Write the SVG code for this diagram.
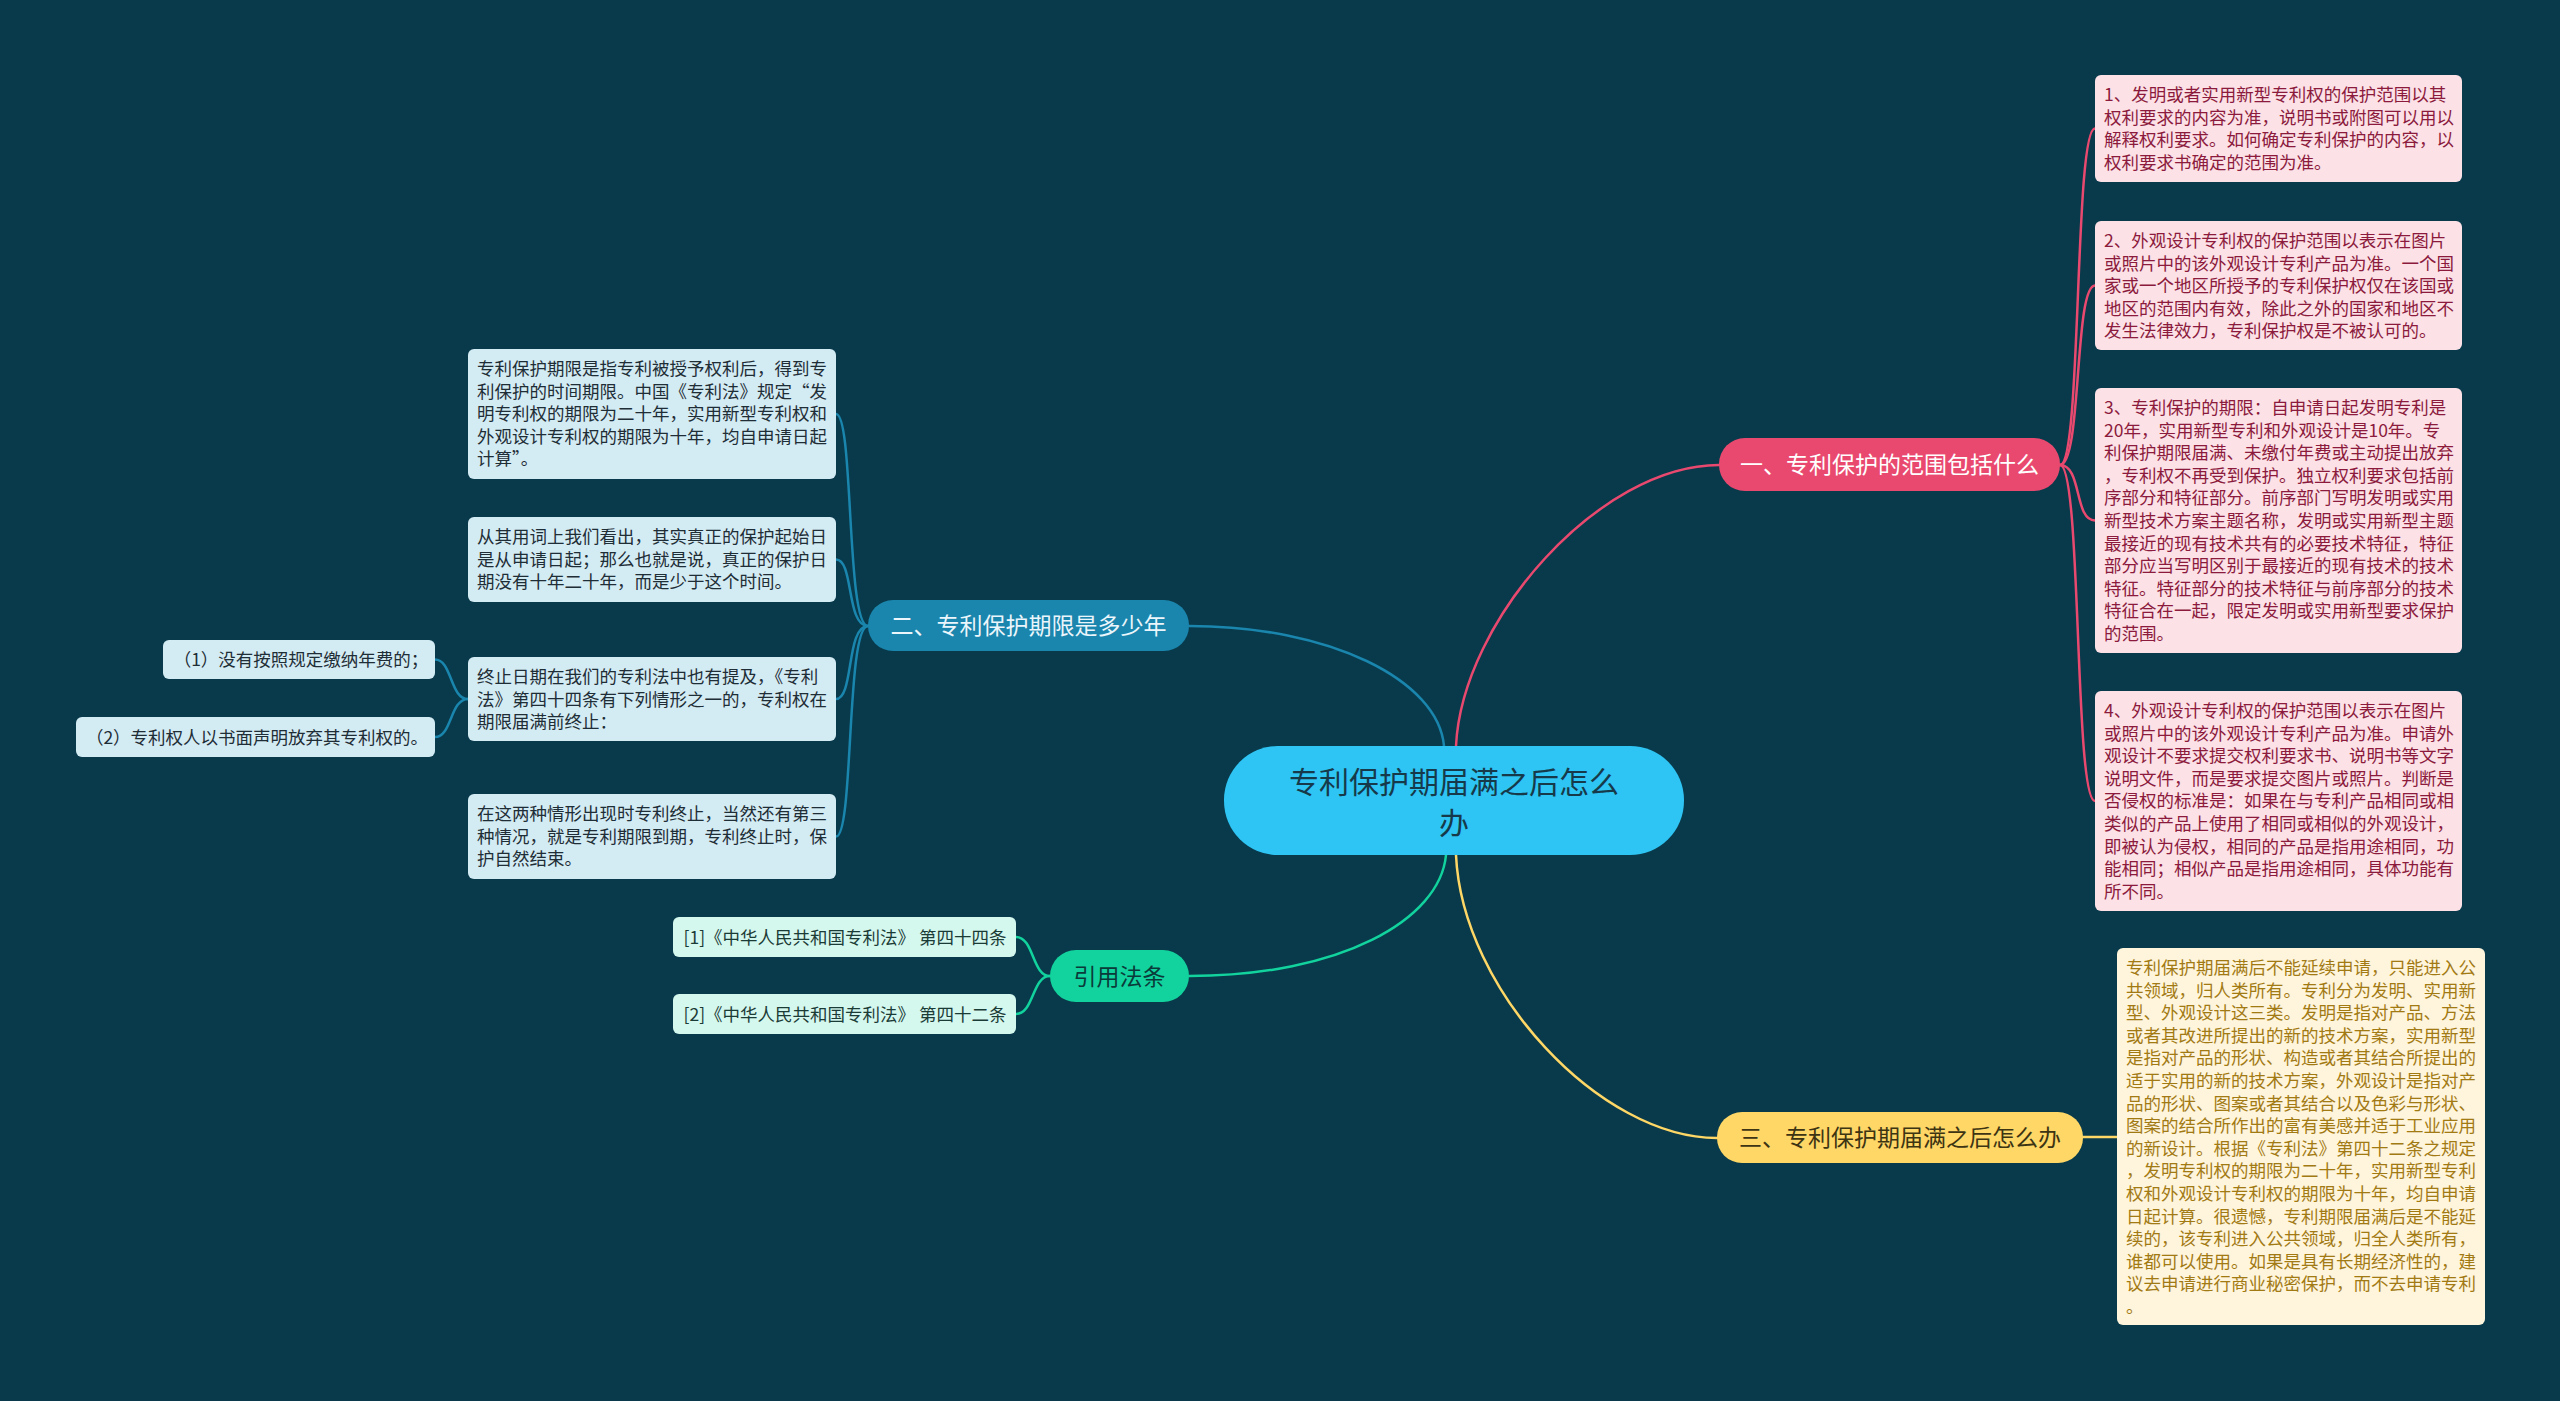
<svg xmlns="http://www.w3.org/2000/svg" width="2560" height="1401" viewBox="0 0 2560 1401">
<style>
text{font-family:"Noto Sans CJK SC","Noto Sans",sans-serif}
.lk{fill:none;stroke-width:2.5;stroke-linecap:round}
.r{stroke:#e9496f}.b{stroke:#1a85ad}.g{stroke:#12d39d}.y{stroke:#fed766}
.pk{fill:#fce1e7}.pkt{fill:#8b1a3c;font-size:17.5px}
.bl{fill:#d3ebf3}.blt{fill:#1e2d36;font-size:17.5px}
.mt{fill:#d4f7ee}.mtt{fill:#1b3b36;font-size:17.5px}
.cr{fill:#fff5dc}.crt{fill:#a27a14;font-size:17.5px}
.br{font-size:23px}
</style>
<rect width="2560" height="1401" fill="#083a4b"/>
<g id="connectors">
<path class="lk r" d="M1456,746 C1462,620 1600,465 1719,465"/>
<path class="lk b" d="M1444,746 C1438,680 1330,626 1189,626"/>
<path class="lk g" d="M1446,855 C1440,920 1340,976 1189,976"/>
<path class="lk y" d="M1456,855 C1462,990 1600,1138 1717,1138"/>
<path class="lk r" d="M2060,465 C2082,465 2074,128.5 2095,128.5"/>
<path class="lk r" d="M2060,465 C2082,465 2074,285.5 2095,285.5"/>
<path class="lk r" d="M2060,465 C2082,465 2074,520.5 2095,520.5"/>
<path class="lk r" d="M2060,465 C2082,465 2074,801 2095,801"/>
<path class="lk y" d="M2083,1137 L2117,1137"/>
<path class="lk b" d="M868,626 C846,626 854,414 836,414"/>
<path class="lk b" d="M868,626 C846,626 854,559.5 836,559.5"/>
<path class="lk b" d="M868,626 C846,626 854,699 836,699"/>
<path class="lk b" d="M868,626 C846,626 854,836.5 836,836.5"/>
<path class="lk b" d="M468,699 C450,699 452,659.5 435,659.5"/>
<path class="lk b" d="M468,699 C450,699 452,737 435,737"/>
<path class="lk g" d="M1050,976 C1032,976 1034,937 1016,937"/>
<path class="lk g" d="M1050,976 C1032,976 1034,1014 1016,1014"/>
</g>
<g id="center">
<rect x="1224" y="746" width="460" height="109" rx="54" fill="#2ec4f4"/>
<text x="1454" y="793" font-size="30" fill="#163a4a" text-anchor="middle">专利保护期届满之后怎么<tspan x="1454" y="834">办</tspan></text>
</g>
<g id="branch1">
<rect x="1719" y="438" width="341" height="53" rx="26" fill="#e9496f"/>
<text class="br" x="1889.5" y="473" fill="#ffffff" text-anchor="middle">一、专利保护的范围包括什么</text>
</g>
<g id="branch2">
<rect x="868" y="600" width="321" height="51" rx="25" fill="#1a85ad"/>
<text class="br" x="1028.5" y="634" fill="#eaf6fb" text-anchor="middle">二、专利保护期限是多少年</text>
</g>
<g id="branch3">
<rect x="1717" y="1112" width="366" height="51" rx="25" fill="#fed766"/>
<text class="br" x="1900" y="1146" fill="#3d3413" text-anchor="middle">三、专利保护期届满之后怎么办</text>
</g>
<g id="branch4">
<rect x="1050" y="950" width="139" height="52" rx="26" fill="#12d39d"/>
<text class="br" x="1119.5" y="984.5" fill="#0a3b3a" text-anchor="middle">引用法条</text>
</g>
<g id="p1">
<rect class="pk" x="2095" y="75" width="367" height="107" rx="6"/>
<text class="pkt" x="2104" y="101">1、发明或者实用新型专利权的保护范围以其<tspan x="2104" dy="22.6">权利要求的内容为准，说明书或附图可以用以</tspan><tspan x="2104" dy="22.6">解释权利要求。如何确定专利保护的内容，以</tspan><tspan x="2104" dy="22.6">权利要求书确定的范围为准。</tspan></text>
</g>
<g id="p2">
<rect class="pk" x="2095" y="221" width="367" height="129" rx="6"/>
<text class="pkt" x="2104" y="247">2、外观设计专利权的保护范围以表示在图片<tspan x="2104" dy="22.6">或照片中的该外观设计专利产品为准。一个国</tspan><tspan x="2104" dy="22.6">家或一个地区所授予的专利保护权仅在该国或</tspan><tspan x="2104" dy="22.6">地区的范围内有效，除此之外的国家和地区不</tspan><tspan x="2104" dy="22.6">发生法律效力，专利保护权是不被认可的。</tspan></text>
</g>
<g id="p3">
<rect class="pk" x="2095" y="388" width="367" height="265" rx="6"/>
<text class="pkt" x="2104" y="414">3、专利保护的期限：自申请日起发明专利是<tspan x="2104" dy="22.6">20年，实用新型专利和外观设计是10年。专</tspan><tspan x="2104" dy="22.6">利保护期限届满、未缴付年费或主动提出放弃</tspan><tspan x="2104" dy="22.6">，专利权不再受到保护。独立权利要求包括前</tspan><tspan x="2104" dy="22.6">序部分和特征部分。前序部门写明发明或实用</tspan><tspan x="2104" dy="22.6">新型技术方案主题名称，发明或实用新型主题</tspan><tspan x="2104" dy="22.6">最接近的现有技术共有的必要技术特征，特征</tspan><tspan x="2104" dy="22.6">部分应当写明区别于最接近的现有技术的技术</tspan><tspan x="2104" dy="22.6">特征。特征部分的技术特征与前序部分的技术</tspan><tspan x="2104" dy="22.6">特征合在一起，限定发明或实用新型要求保护</tspan><tspan x="2104" dy="22.6">的范围。</tspan></text>
</g>
<g id="p4">
<rect class="pk" x="2095" y="691" width="367" height="220" rx="6"/>
<text class="pkt" x="2104" y="717">4、外观设计专利权的保护范围以表示在图片<tspan x="2104" dy="22.6">或照片中的该外观设计专利产品为准。申请外</tspan><tspan x="2104" dy="22.6">观设计不要求提交权利要求书、说明书等文字</tspan><tspan x="2104" dy="22.6">说明文件，而是要求提交图片或照片。判断是</tspan><tspan x="2104" dy="22.6">否侵权的标准是：如果在与专利产品相同或相</tspan><tspan x="2104" dy="22.6">类似的产品上使用了相同或相似的外观设计，</tspan><tspan x="2104" dy="22.6">即被认为侵权，相同的产品是指用途相同，功</tspan><tspan x="2104" dy="22.6">能相同；相似产品是指用途相同，具体功能有</tspan><tspan x="2104" dy="22.6">所不同。</tspan></text>
</g>
<g id="y1">
<rect class="cr" x="2117" y="948" width="368" height="377" rx="6"/>
<text class="crt" x="2126" y="974">专利保护期届满后不能延续申请，只能进入公<tspan x="2126" dy="22.6">共领域，归人类所有。专利分为发明、实用新</tspan><tspan x="2126" dy="22.6">型、外观设计这三类。发明是指对产品、方法</tspan><tspan x="2126" dy="22.6">或者其改进所提出的新的技术方案，实用新型</tspan><tspan x="2126" dy="22.6">是指对产品的形状、构造或者其结合所提出的</tspan><tspan x="2126" dy="22.6">适于实用的新的技术方案，外观设计是指对产</tspan><tspan x="2126" dy="22.6">品的形状、图案或者其结合以及色彩与形状、</tspan><tspan x="2126" dy="22.6">图案的结合所作出的富有美感并适于工业应用</tspan><tspan x="2126" dy="22.6">的新设计。根据《专利法》第四十二条之规定</tspan><tspan x="2126" dy="22.6">，发明专利权的期限为二十年，实用新型专利</tspan><tspan x="2126" dy="22.6">权和外观设计专利权的期限为十年，均自申请</tspan><tspan x="2126" dy="22.6">日起计算。很遗憾，专利期限届满后是不能延</tspan><tspan x="2126" dy="22.6">续的，该专利进入公共领域，归全人类所有，</tspan><tspan x="2126" dy="22.6">谁都可以使用。如果是具有长期经济性的，建</tspan><tspan x="2126" dy="22.6">议去申请进行商业秘密保护，而不去申请专利</tspan><tspan x="2126" dy="22.6">。</tspan></text>
</g>
<g id="b1">
<rect class="bl" x="468" y="349" width="368" height="130" rx="6"/>
<text class="blt" x="477" y="375">专利保护期限是指专利被授予权利后，得到专<tspan x="477" dy="22.6">利保护的时间期限。中国《专利法》规定“发</tspan><tspan x="477" dy="22.6">明专利权的期限为二十年，实用新型专利权和</tspan><tspan x="477" dy="22.6">外观设计专利权的期限为十年，均自申请日起</tspan><tspan x="477" dy="22.6">计算”。</tspan></text>
</g>
<g id="b2">
<rect class="bl" x="468" y="517" width="368" height="85" rx="6"/>
<text class="blt" x="477" y="543">从其用词上我们看出，其实真正的保护起始日<tspan x="477" dy="22.6">是从申请日起；那么也就是说，真正的保护日</tspan><tspan x="477" dy="22.6">期没有十年二十年，而是少于这个时间。</tspan></text>
</g>
<g id="b3">
<rect class="bl" x="468" y="657" width="368" height="84" rx="6"/>
<text class="blt" x="477" y="683">终止日期在我们的专利法中也有提及，《专利<tspan x="477" dy="22.6">法》第四十四条有下列情形之一的，专利权在</tspan><tspan x="477" dy="22.6">期限届满前终止：</tspan></text>
</g>
<g id="b4">
<rect class="bl" x="468" y="794" width="368" height="85" rx="6"/>
<text class="blt" x="477" y="820">在这两种情形出现时专利终止，当然还有第三<tspan x="477" dy="22.6">种情况，就是专利期限到期，专利终止时，保</tspan><tspan x="477" dy="22.6">护自然结束。</tspan></text>
</g>
<g id="l1">
<rect class="bl" x="163" y="640" width="272" height="39" rx="6"/>
<text class="blt" x="301" y="666" text-anchor="middle">（1）没有按照规定缴纳年费的；</text>
</g>
<g id="l2">
<rect class="bl" x="76" y="717" width="359" height="40" rx="6"/>
<text class="blt" x="257" y="743.5" text-anchor="middle">（2）专利权人以书面声明放弃其专利权的。</text>
</g>
<g id="c1">
<rect class="mt" x="673" y="917" width="343" height="40" rx="6"/>
<text class="mtt" x="845" y="943.5" text-anchor="middle">[1]《中华人民共和国专利法》 第四十四条</text>
</g>
<g id="c2">
<rect class="mt" x="673" y="994" width="343" height="40" rx="6"/>
<text class="mtt" x="845" y="1020.5" text-anchor="middle">[2]《中华人民共和国专利法》 第四十二条</text>
</g>
</svg>
